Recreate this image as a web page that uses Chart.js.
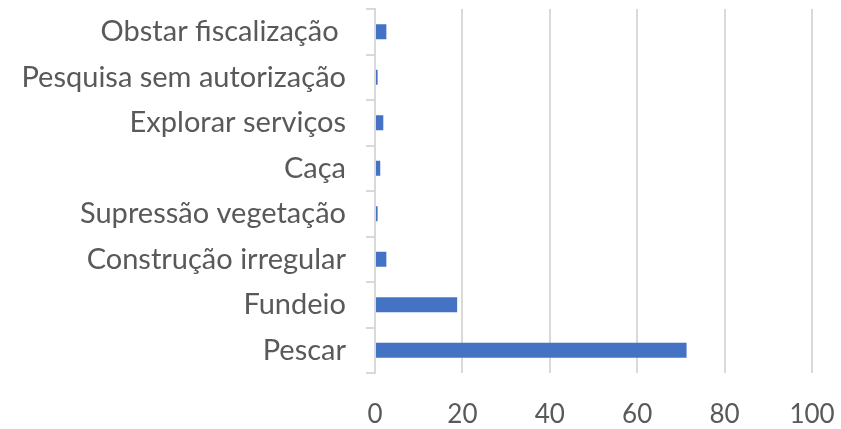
<!DOCTYPE html>
<html>
<head>
<meta charset="utf-8">
<script src="https://cdn.jsdelivr.net/npm/chart.js@4/dist/chart.umd.min.js"></script>
<style>
  html, body { margin: 0; padding: 0; background: #fff; }
  #wrap { width: 841px; height: 429px; position: relative; }
</style>
</head>
<body>
<div id="wrap"><canvas id="chart"></canvas></div>
<script>
// categories, top to bottom
const categories = [
    'Obstar fiscalização ',
    'Pesquisa sem autorização',
    'Explorar serviços',
    'Caça',
    'Supressão vegetação',
    'Construção irregular',
    'Fundeio',
    'Pescar'
];
const values = [2.6, 0.6, 1.9, 1.2, 0.6, 2.6, 18.8, 71.3];
const xTicks = [0, 20, 40, 60, 80, 100];

const gridColor = '#d9d9d9';
const textColor = '#595959';
const fontFamily = 'Lato, "Open Sans", sans-serif';

new Chart(document.getElementById('chart').getContext('2d'), {
    type: 'bar',
    data: {
        labels: categories,
        datasets: [{
            data: values,
            backgroundColor: '#4472c4',
            borderWidth: 0,
            categoryPercentage: 1,
            barPercentage: 0.33
        }]
    },
    options: {
        indexAxis: 'y',
        responsive: true,
        maintainAspectRatio: false,
        animation: false,
        layout: { padding: { top: 9, right: 29, bottom: 0, left: 0 } },
        plugins: {
            legend: { display: false },
            tooltip: { enabled: false }
        },
        scales: {
            x: {
                min: 0,
                max: 100,
                afterBuildTicks: function(scale) {
                    scale.ticks = xTicks.map(v => ({ value: v }));
                },
                afterFit: function(scale) {
                    scale.height = 56;
                    scale.paddingLeft = 0;
                    scale.paddingRight = 0;
                },
                grid: { color: gridColor, lineWidth: 2, drawTicks: false },
                border: { display: false },
                ticks: {
                    color: textColor,
                    padding: 26,
                    font: { family: fontFamily, size: 26 }
                }
            },
            y: {
                afterFit: function(scale) {
                    scale.width = 375;
                    scale.paddingTop = 0;
                    scale.paddingBottom = 0;
                },
                grid: {
                    offset: true,
                    drawOnChartArea: false,
                    drawTicks: true,
                    tickLength: 9,
                    color: gridColor,
                    lineWidth: 2
                },
                border: { display: true, color: gridColor, width: 2 },
                ticks: {
                    color: textColor,
                    padding: 20,
                    font: { family: fontFamily, size: 29 }
                }
            }
        }
    }
});
</script>
</body>
</html>
